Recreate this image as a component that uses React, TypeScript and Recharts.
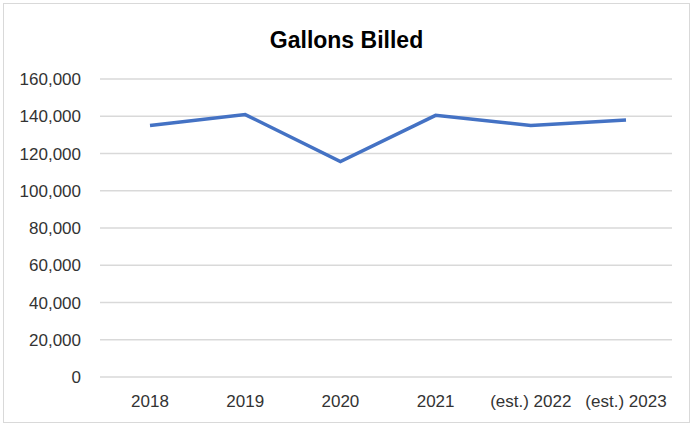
import { CartesianGrid, Line, LineChart, XAxis, YAxis } from "recharts";

const years = ["2018", "2019", "2020", "2021", "(est.) 2022", "(est.) 2023"];
const gallons = [135000, 140900, 115700, 140500, 135000, 138000];
const yTicks = [0, 20000, 40000, 60000, 80000, 100000, 120000, 140000, 160000];

const data = years.map((year, i) => ({ year, gallons: gallons[i] }));

const fmt = (v: number) => v.toLocaleString("en-US");

export default function App() {
  return (
    <div
      style={{
        position: "absolute",
        left: 3,
        top: 3,
        width: 687,
        height: 420,
        border: "1px solid #d9d9d9",
        boxSizing: "border-box",
        background: "#fff",
        fontFamily: "'Liberation Sans', Arial, sans-serif"
      }}
    >
      <div
        style={{
          position: "absolute",
          left: 0,
          right: 0,
          top: 23,
          textAlign: "center",
          fontSize: 23,
          fontWeight: 700,
          color: "#000"
        }}
      >
        Gallons Billed
      </div>
      <LineChart
        width={685}
        height={418}
        data={data}
        margin={{ top: 75, right: 17, bottom: 0, left: 0 }}
      >
        <CartesianGrid stroke="#d9d9d9" strokeWidth={1.5} vertical={false} />
        <XAxis
          dataKey="year"
          axisLine={false}
          tickLine={false}
          tickSize={0}
          tickMargin={18}
          height={45}
          interval={0}
          padding={{ left: 50, right: 46 }}
          tick={{ fill: "#333", fontSize: 17 }}
        />
        <YAxis
          domain={[0, 160000]}
          ticks={yTicks}
          axisLine={false}
          tickLine={false}
          tickSize={0}
          tickMargin={19}
          width={96}
          tickFormatter={fmt}
          tick={{ fill: "#333", fontSize: 17 }}
        />
        <Line
          type="linear"
          dataKey="gallons"
          stroke="#4472c4"
          strokeWidth={3.5}
          dot={false}
          isAnimationActive={false}
        />
      </LineChart>
    </div>
  );
}
